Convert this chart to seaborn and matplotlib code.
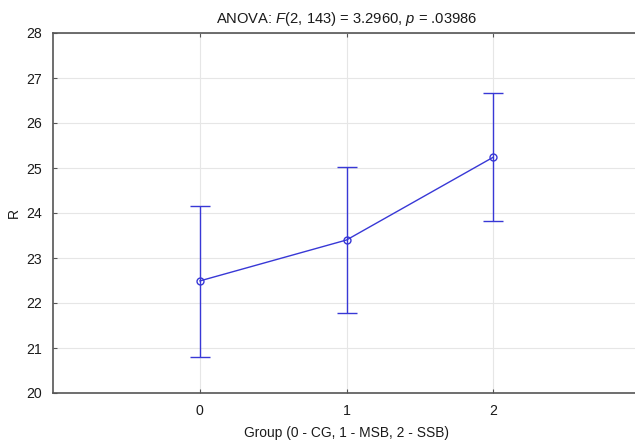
import matplotlib
matplotlib.use("Agg")
import matplotlib.pyplot as plt
import seaborn as sns
import pandas as pd

groups = [0, 1, 2]
means = [22.49, 23.40, 25.24]
lower = [20.81, 21.78, 23.83]
upper = [24.16, 25.03, 26.66]

df = pd.DataFrame({"group": groups, "R": means})

sns.set_style("whitegrid")
plt.rcParams["font.family"] = ["Liberation Sans", "DejaVu Sans"]
plt.rcParams["mathtext.fontset"] = "custom"
plt.rcParams["mathtext.rm"] = "Liberation Sans"
plt.rcParams["mathtext.it"] = "Liberation Sans:italic"
plt.rcParams["text.color"] = "#1a1a1a"
plt.rcParams["axes.labelcolor"] = "#1a1a1a"
plt.rcParams["xtick.labelcolor"] = "#1a1a1a"
plt.rcParams["ytick.labelcolor"] = "#1a1a1a"

blue = "#3838d6"

fig = plt.figure(figsize=(6.35, 4.41), dpi=100)
ax = fig.add_axes([53 / 635, 48 / 441, 587 / 635, 360 / 441])

sns.lineplot(data=df, x="group", y="R", color=blue, lw=1, marker="o",
             markersize=5, markerfacecolor="none", markeredgecolor=blue,
             markeredgewidth=1, ax=ax)
err = [[m - lo for m, lo in zip(means, lower)], [hi - m for m, hi in zip(means, upper)]]
ax.errorbar(groups, means, yerr=err, fmt="none", ecolor=blue, elinewidth=1,
            capsize=7, capthick=1)

ax.set_xlim(-1, 3)
ax.set_ylim(20, 28)
ax.set_xticks(groups)
ax.set_yticks(range(20, 29))
ax.grid(color="#e6e6e6", lw=0.8)
for side in ["left", "bottom", "top", "right"]:
    ax.spines[side].set_color("#555555")
    ax.spines[side].set_linewidth(1.2)
ax.tick_params(direction="in", length=3, color="#555555", labelsize=10.2,
               top=True, right=True, left=True, bottom=True, pad=8)
ax.set_xlabel("Group (0 - CG, 1 - MSB, 2 - SSB)", fontsize=9.9, labelpad=6)
ax.set_ylabel("R", fontsize=10, labelpad=4)
ax.set_title("ANOVA: $F$(2, 143) = 3.2960, $p$ = .03986", fontsize=10.6, pad=7)

fig.savefig("out.png", dpi=100)
